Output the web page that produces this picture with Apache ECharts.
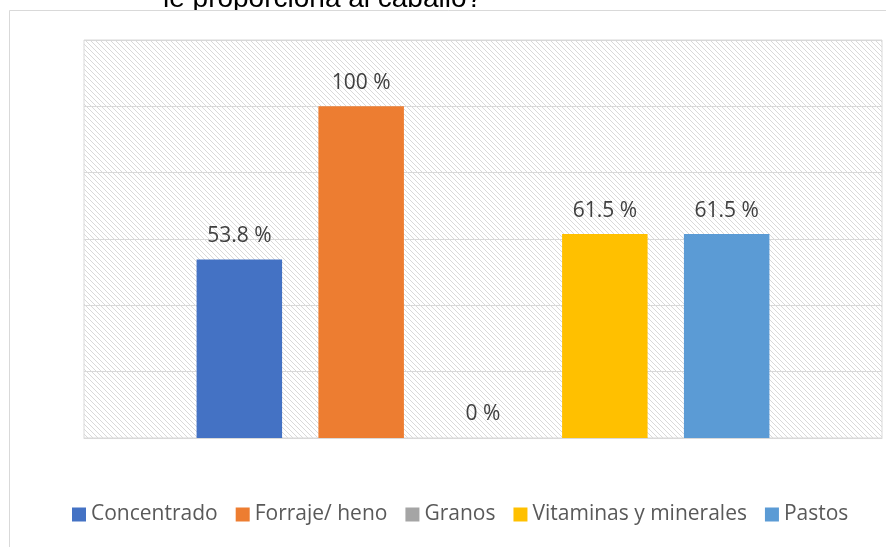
<!DOCTYPE html>
<html>
<head>
<meta charset="utf-8">
<script src="https://cdn.jsdelivr.net/npm/echarts@6/dist/echarts.min.js"></script>
<style>
  html, body { margin: 0; padding: 0; background: #fff; }
  #chart { width: 886px; height: 547px; }
</style>
</head>
<body>
<div id="chart"></div>
<script>
// data
const seriesNames = ["Concentrado", "Forraje/ heno", "Granos", "Vitaminas y minerales", "Pastos"];
const seriesValues = [53.8, 100, 0, 61.5, 61.5];
const seriesColors = ["#4472C4", "#ED7D31", "#A5A5A5", "#FFC000", "#5B9BD5"];
const titleText = "le proporciona al caballo?";

// hatched plot background (downward diagonal)
function makeHatch() {
  const n = 5;
  const c = document.createElement("canvas");
  c.width = n;
  c.height = n;
  const ctx = c.getContext("2d");
  ctx.fillStyle = "#fff";
  ctx.fillRect(0, 0, n, n);
  ctx.fillStyle = "#d9d9d9";
  for (let i = 0; i < n; i++) ctx.fillRect(i, i, 1, 1);
  return c;
}

const myChart = echarts.init(document.getElementById("chart"));

const option = {
  animation: false,
  textStyle: { fontFamily: "Open Sans" },
  graphic: [
    {
      type: "text",
      z: -50,
      left: 163,
      top: -15,
      style: { text: titleText, font: "28px 'Liberation Sans'", fill: "#000" },
    },
    {
      type: "rect",
      z: -10,
      shape: { x: 9.5, y: 10.5, width: 1000, height: 1000 },
      style: { fill: "#fff", stroke: "#d9d9d9", lineWidth: 1 },
    },
  ],
  legend: {
    left: 72,
    top: 504,
    padding: 0,
    icon: "rect",
    itemWidth: 14,
    itemHeight: 14,
    itemGap: 18,
    textStyle: { color: "#595959", fontSize: 21, fontFamily: "Open Sans" },
    data: seriesNames,
  },
  grid: {
    left: 84,
    right: 4,
    top: 40,
    bottom: 109,
    show: true,
    backgroundColor: { image: makeHatch(), repeat: "repeat" },
    borderColor: "#d9d9d9",
    borderWidth: 1,
  },
  xAxis: {
    type: "category",
    data: [""],
    axisLine: { lineStyle: { color: "#d9d9d9" } },
    axisTick: { show: false },
    axisLabel: { show: false },
  },
  yAxis: {
    type: "value",
    min: 0,
    max: 120,
    interval: 20,
    axisLabel: { show: false },
    axisLine: { show: false },
    axisTick: { show: false },
    splitLine: { lineStyle: { color: "#d9d9d9", width: 1 } },
  },
  series: seriesNames.map((name, i) => ({
    name,
    type: "bar",
    data: [seriesValues[i]],
    barWidth: 85.5,
    barGap: "42.5%",
    itemStyle: { color: seriesColors[i] },
    label: {
      show: true,
      position: "top",
      distance: 13,
      formatter: "{c} %",
      color: "#404040",
      fontSize: 21,
      fontFamily: "Open Sans",
    },
  })),
};

myChart.setOption(option);
</script>
</body>
</html>
